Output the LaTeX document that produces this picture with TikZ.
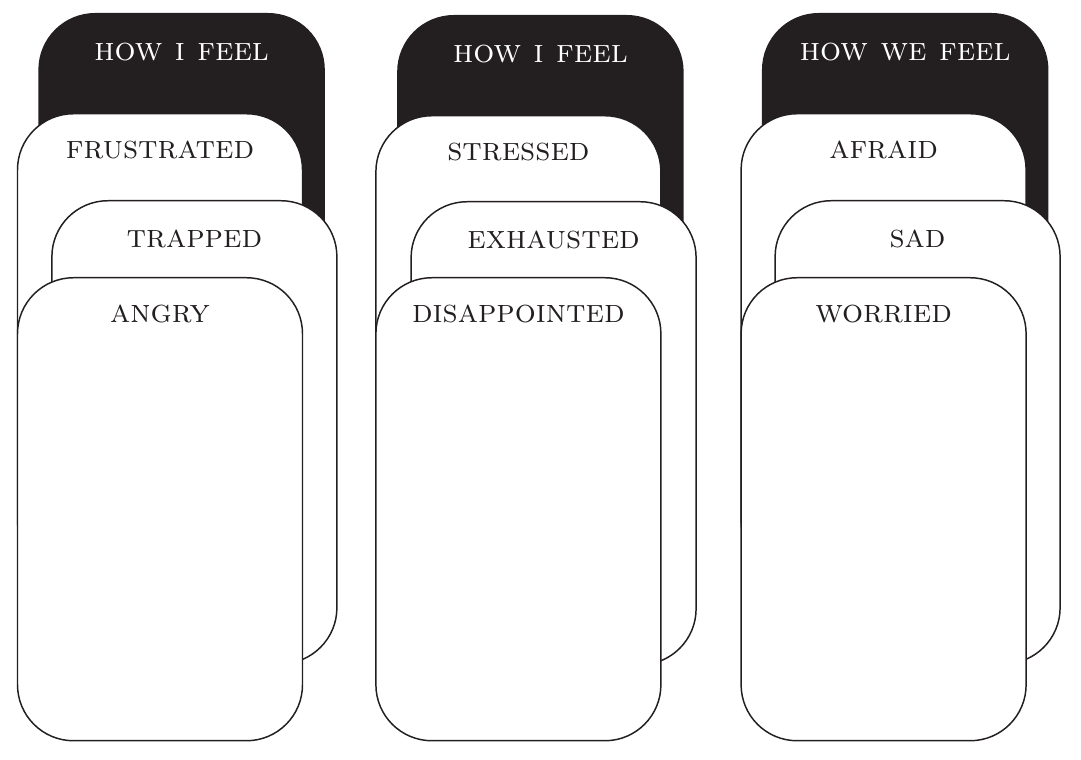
\documentclass[tikz,border=0pt]{standalone}
\usepackage{xcolor}
\usepackage{tikz}
\definecolor{ink}{HTML}{231F20}

\begin{document}
\begin{tikzpicture}[
    line width=1.05pt,
    card/.style={draw=ink, fill=white, rounded corners=1.4cm, inner sep=0pt,
      minimum width=7.125cm, minimum height=11.575cm, anchor=north},
    back/.style={card, fill=ink},
    word/.style={anchor=base, text=ink, inner sep=0pt,
      font=\fontsize{23.5}{27}\selectfont\scshape},
    title/.style={word, text=white}
  ]
    \useasboundingbox (0,0) rectangle (27.025,19);
    % how i feel
    \node[back] (B1) at (4.54,18.675) {};
    \node[card] (C1a) at (4.0,16.175) {};
    \node[card] (C1b) at (4.86,14.0) {};
    \node[card] (C1c) at (4.0,12.075) {};
    \node[title] (T1) at ([yshift=-1.2cm]B1.north) {how i feel};
    \node[word] (W1a) at ([yshift=-1.15cm]C1a.north) {frustrated};
    \node[word] (W1b) at ([yshift=-1.18cm]C1b.north) {trapped};
    \node[word] (W1c) at ([yshift=-1.15cm]C1c.north) {angry};
    % how i feel (again)
    \node[back] (B2) at (13.51,18.625) {};
    \node[card] (C2a) at (12.96,16.125) {};
    \node[card] (C2b) at (13.84,13.975) {};
    \node[card] (C2c) at (12.96,12.075) {};
    \node[title] (T2) at ([yshift=-1.2cm]B2.north) {how i feel};
    \node[word] (W2a) at ([yshift=-1.15cm]C2a.north) {stressed};
    \node[word] (W2b) at ([yshift=-1.18cm]C2b.north) {exhausted};
    \node[word] (W2c) at ([yshift=-1.15cm]C2c.north) {disappointed};
    % how we feel
    \node[back] (B3) at (22.63,18.675) {};
    \node[card] (C3a) at (22.09,16.175) {};
    \node[card] (C3b) at (22.94,14.0) {};
    \node[card] (C3c) at (22.09,12.075) {};
    \node[title] (T3) at ([yshift=-1.2cm]B3.north) {how we feel};
    \node[word] (W3a) at ([yshift=-1.15cm]C3a.north) {afraid};
    \node[word] (W3b) at ([yshift=-1.18cm]C3b.north) {sad};
    \node[word] (W3c) at ([yshift=-1.15cm]C3c.north) {worried};
\end{tikzpicture}
\end{document}
